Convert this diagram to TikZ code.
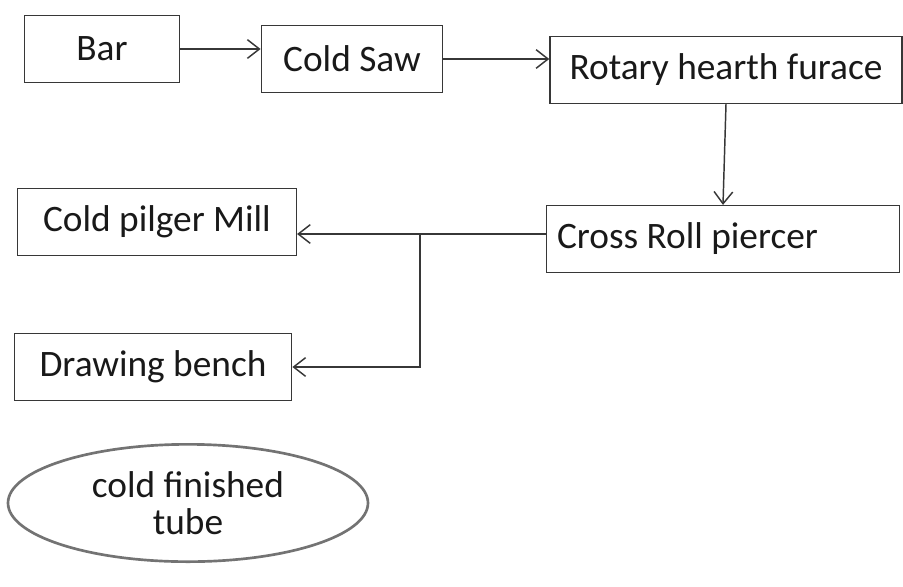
\documentclass[tikz,border=0pt]{standalone}
\usepackage{fontspec}
\setmainfont{Carlito}
\usepackage{tikz}
\usetikzlibrary{arrows.meta,positioning,shapes.geometric,calc}
\definecolor{inkline}{RGB}{55,55,55}
\definecolor{inktext}{RGB}{25,25,25}
\definecolor{softgray}{RGB}{115,115,115}

\begin{document}
\begin{tikzpicture}[
  x=0.75pt, y=-0.75pt,
  stage/.style={draw=inkline, line width=1.1pt, align=center, minimum height=50pt, inner sep=0pt, text=inktext, font=\fontsize{28}{28}\selectfont},
  product/.style={ellipse, draw=softgray, line width=2pt, align=center, minimum width=270pt, minimum height=88pt, inner sep=0pt, text=inktext, font=\fontsize{28}{28}\selectfont},
  arrow/.style={-{Straight Barb[length=9pt,width=14pt]}, draw=inkline, line width=1.1pt}
]
\useasboundingbox (0,0) rectangle (903,586);

\node[stage, minimum width=116pt] (bar) at (102,49) {Bar};
\node[stage, minimum width=136pt] (saw) at (352,59) {Cold Saw};
\node[stage, minimum width=264pt] (furnace) at (726,70) {Rotary hearth furace};
\node[stage, minimum width=265pt, text width=249pt, align=flush left] (piercer) at (723,239) {Cross Roll piercer};
\node[stage, minimum width=209pt] (pilger) at (157,222) {Cold pilger Mill};
\node[stage, minimum width=208pt] (bench) at (153,367) {Drawing bench};
\node[product] (tube) at (188,503) {cold finished\\tube};

\coordinate (split) at (420,234);

\draw[arrow] (bar.east) -- (bar.east -| saw.west);
\draw[arrow] (saw.east) -- (saw.east -| furnace.west);
\draw[arrow] (furnace.south) -- (piercer.north);
\draw[arrow] (piercer.west |- split) -- (split -| pilger.east);
\draw[arrow] (split) |- (bench.east);
\end{tikzpicture}
\end{document}
